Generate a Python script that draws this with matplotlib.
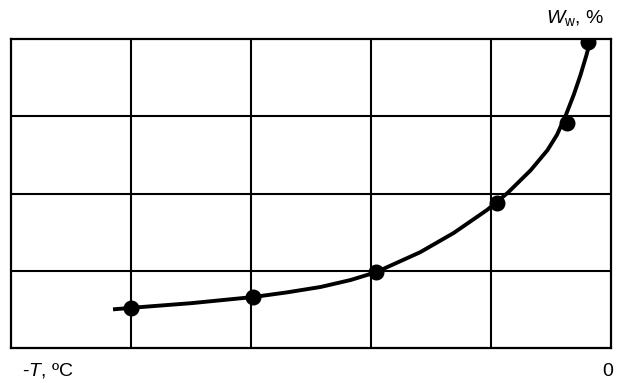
import matplotlib.pyplot as plt

plt.rcParams["font.family"] = ["Liberation Sans", "DejaVu Sans"]
plt.rcParams["mathtext.fontset"] = "custom"
plt.rcParams["mathtext.rm"] = "Liberation Sans"
plt.rcParams["mathtext.it"] = "Liberation Sans:italic"

# measured points (temperature below zero, water content)
temp_pts = [-4.0, -2.98, -1.96, -0.95, -0.37, -0.19]
water_pts = [0.52, 0.66, 0.98, 1.88, 2.91, 3.96]

# fitted curve
temp_curve = [-4.15, -4.0, -3.50, -2.98, -2.70, -2.42, -2.17, -1.96, -1.59,
              -1.31, -1.03, -0.86, -0.67, -0.53, -0.45, -0.375, -0.31, -0.255,
              -0.205, -0.175]
water_curve = [0.50, 0.52, 0.58, 0.66, 0.72, 0.79, 0.88, 0.98, 1.24,
               1.49, 1.79, 2.01, 2.30, 2.56, 2.76, 3.02, 3.28, 3.53,
               3.79, 3.96]

x_ticks = [-5, -4, -3, -2, -1, 0]
y_ticks = [0, 1, 2, 3, 4]

fig = plt.figure(figsize=(6.21, 3.83), dpi=100)
ax = fig.add_axes([11 / 621, 35 / 383, 600 / 621, 309 / 383])

for xv in x_ticks[1:-1]:
    ax.axvline(xv, color="black", linewidth=1.5, zorder=1)
for yv in y_ticks[1:-1]:
    ax.axhline(yv, color="black", linewidth=1.5, zorder=1)

ax.plot(temp_curve, water_curve, color="black", linewidth=2.8,
        solid_capstyle="butt", solid_joinstyle="round", zorder=2)
ax.plot(temp_pts, water_pts, "o", color="black", markersize=10.5, zorder=3)

ax.set_xlim(-5, 0)
ax.set_ylim(0, 4)
ax.set_xticks([])
ax.set_yticks([])
for s in ax.spines.values():
    s.set_linewidth(1.6)

fig.text(22 / 621, 1 - 371 / 383, "-$T$, ºC", fontsize=14, va="center", ha="left")
fig.text(613 / 621, 1 - 371 / 383, "0", fontsize=14, va="center", ha="right")
fig.text(604 / 621, 1 - 18 / 383, "$W_{\\rm w}$, %", fontsize=14,
         va="center", ha="right")

fig.savefig("out.png", dpi=100)
